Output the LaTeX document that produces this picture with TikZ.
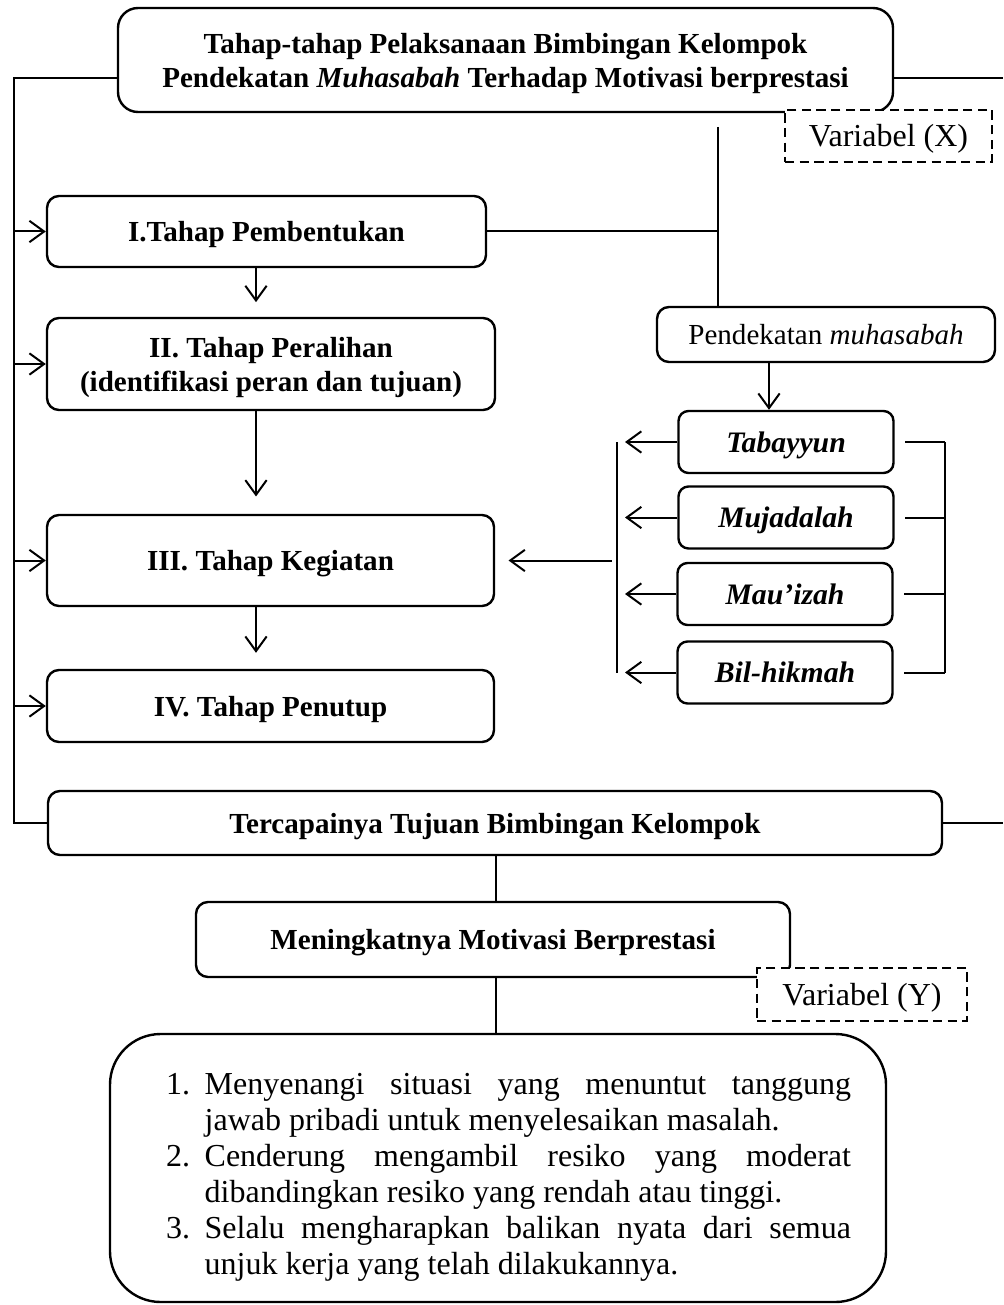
\documentclass[tikz,border=0pt]{standalone}
\usepackage{fontspec}
\setmainfont{Liberation Serif}
\usepackage{enumitem}
\usetikzlibrary{arrows.meta}
\tikzset{every picture/.style={line width=1.5pt}}
\tikzset{
  stage/.style={draw, line width=1.8pt, rounded corners=9pt, inner sep=0pt, align=center, fill=white,
    text height=15pt, text depth=0pt, font=\fontsize{21.8}{25.5}\selectfont\bfseries},
  twoline/.style={text height={}, text depth=#1},
  way/.style={stage, rounded corners=7.5pt, minimum width=161.25pt, minimum height=46.5pt,
    font=\fontsize{22.3}{25.5}\selectfont\bfseries\itshape},
  varbox/.style={draw, line width=1.5pt, dash pattern=on 7pt off 4pt, fill=white, inner sep=0pt,
    text height=16pt, text depth=-3pt, font=\fontsize{24}{27}\selectfont},
  arr/.style={-{Straight Barb[length=11pt,width=16pt]}},
}

\begin{document}
\begin{tikzpicture}[x=0.75pt,y=0.75pt,yscale=-1,xscale=1]
\useasboundingbox (0,0) rectangle (1003,1305);

%Rounded Rect: title
\node [stage, twoline=-6pt, rounded corners=15pt, minimum width=581.25pt, minimum height=78pt] (judul) at (505.5,60)
  {Tahap-tahap Pelaksanaan Bimbingan Kelompok\\Pendekatan \textit{Muhasabah} Terhadap Motivasi berprestasi};
%Dashed Rect
\node [varbox, minimum width=155.25pt, minimum height=39pt] (varX) at (888.5,136) {Variabel (X)};

%Rounded Rect: stages
\node [stage, minimum width=329.25pt, minimum height=53.25pt] (tahap1) at (266.5,231.5) {I.Tahap Pembentukan};
\node [stage, twoline=-14pt, minimum width=336pt, minimum height=69pt] (tahap2) at (271,364) {II. Tahap Peralihan\\(identifikasi peran dan tujuan)};
\node [stage, minimum width=335.25pt, minimum height=68.25pt] (tahap3) at (270.5,560.5) {III. Tahap Kegiatan};
\node [stage, minimum width=335.25pt, minimum height=54pt] (tahap4) at (270.5,706) {IV. Tahap Penutup};

%Rounded Rect: approach
\node [stage, font=\fontsize{21.8}{25.5}\selectfont, minimum width=253.5pt, minimum height=41.25pt] (pendekatan) at (826,334.5)
  {Pendekatan \textit{muhasabah}};
\node [way] (tabayyun) at (786,442) {Tabayyun};
\node [way] (mujadalah) at (786,517.5) {Mujadalah};
\node [way] (mauizah) at (785,594) {Mau’izah};
\node [way] (bilhikmah) at (785,672.5) {Bil-hikmah};

%Rounded Rect: results
\node [stage, minimum width=670.5pt, minimum height=48pt] (tujuan) at (495,823) {Tercapainya Tujuan Bimbingan Kelompok};
\node [stage, minimum width=445.5pt, minimum height=56.25pt] (motivasi) at (493,939.5) {Meningkatnya Motivasi Berprestasi};
\node [varbox, minimum width=157.5pt, minimum height=39.75pt] (varY) at (862,994.5) {Variabel (Y)};
\node [draw, line width=1.8pt, rounded corners=38pt, minimum width=582pt, minimum height=201pt] (indikator) at (498,1168) {};

% Text Node
\node [text width=513.75pt, align=justify, inner sep=0pt, font=\fontsize{24}{27}\selectfont] (ciri) at (508.5,1170) {%
\tolerance=10000\hyphenpenalty=10000
\begin{enumerate}[label=\arabic*., leftmargin=29pt, labelwidth=18pt, labelsep=11pt, align=right,
  topsep=0pt, itemsep=0pt, parsep=0pt, partopsep=0pt]
\item Menyenangi situasi yang menuntut tanggung\linebreak jawab pribadi untuk menyelesaikan masalah.
\item Cenderung mengambil resiko yang moderat\linebreak dibandingkan resiko yang rendah atau tinggi.
\item Selalu mengharapkan balikan nyata dari semua\linebreak unjuk kerja yang telah dilakukannya.
\end{enumerate}};

%Straight Lines: outer frame
\coordinate (kiri) at (14,78);
\coordinate (kanan) at (1003,78);
\draw (judul.west |- kiri) -- (kiri) |- (tujuan.west);
\draw (judul.east |- kanan) -- (kanan);
\draw (tujuan.east) -- (tujuan.east -| kanan);
\foreach \n in {tahap1,tahap2,tahap3,tahap4}
  \draw [arr] (kiri |- \n.west) -- (\n.west);

%Straight Lines: stage to stage
\coordinate (turun) at (256,0);
\draw [arr, shorten >=11pt] (tahap1.south -| turun) -- (tahap2.north -| turun);
\draw [arr, shorten >=13pt] (tahap2.south -| turun) -- (tahap3.north -| turun);
\draw [arr, shorten >=12pt] (tahap3.south -| turun) -- (tahap4.north -| turun);

%Straight Lines: approach branch
\coordinate (cabang) at (718,127);
\draw (cabang) -- (cabang |- pendekatan.north);
\draw (tahap1.east) -- (tahap1.east -| cabang);
\coordinate (pturun) at (769,0);
\draw [arr] (pendekatan.south -| pturun) -- (tabayyun.north -| pturun);

%Straight Lines: methods
\coordinate (kumpul) at (617,0);
\coordinate (kurung) at (945,0);
\foreach \n in {tabayyun,mujadalah,mauizah,bilhikmah}{
  \draw [arr, shorten >=6pt] (\n.west) -- (\n.west -| kumpul);
  \draw [shorten <=8pt] (\n.east) -- (\n.east -| kurung);
}
\draw (kumpul |- tabayyun.west) -- (kumpul |- bilhikmah.west);
\draw (kurung |- tabayyun.east) -- (kurung |- bilhikmah.east);
\draw [arr, shorten <=4pt, shorten >=10pt] (kumpul |- tahap3.east) -- (tahap3.east);

%Straight Lines: results
\coordinate (tengah) at (496,0);
\draw (tujuan.south -| tengah) -- (motivasi.north -| tengah);
\draw (motivasi.south -| tengah) -- (indikator.north -| tengah);

\end{tikzpicture}
\end{document}
